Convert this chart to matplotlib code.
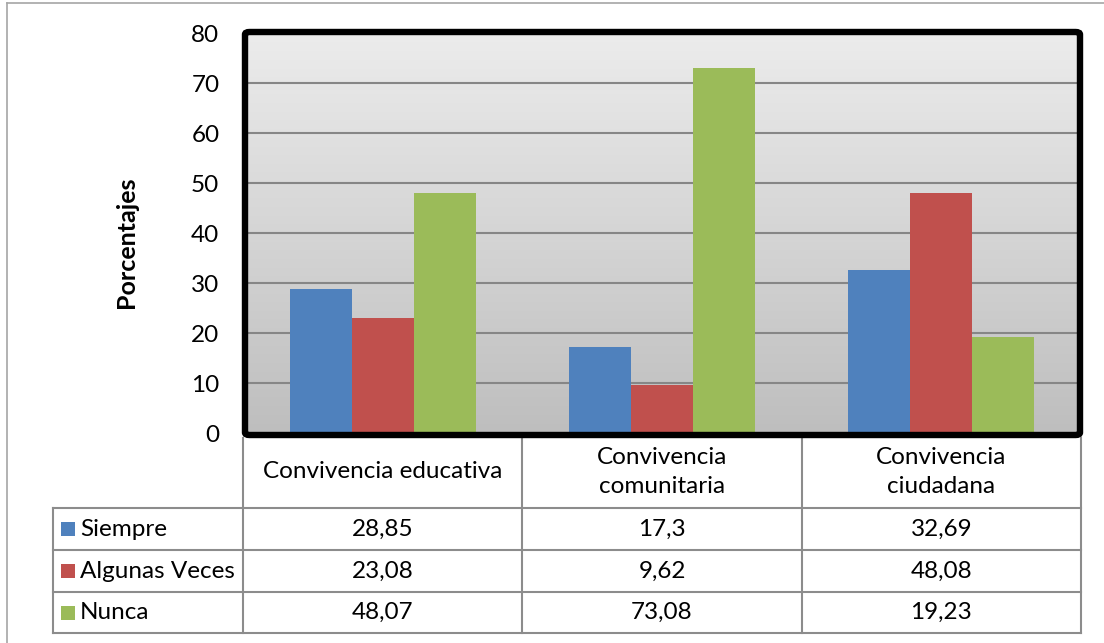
import numpy as np
import matplotlib.pyplot as plt
from matplotlib.patches import FancyBboxPatch, Rectangle
from matplotlib.lines import Line2D
from matplotlib.colors import LinearSegmentedColormap
import matplotlib.transforms as mtransforms

plt.rcParams['font.family'] = ['Lato', 'DejaVu Sans']

categories = ['Convivencia educativa', 'Convivencia\ncomunitaria', 'Convivencia\nciudadana']
series = ['Siempre', 'Algunas Veces', 'Nunca']
siempre = [28.85, 17.3, 32.69]
algunas = [23.08, 9.62, 48.08]
nunca = [48.07, 73.08, 19.23]
labels_siempre = ['28,85', '17,3', '32,69']
labels_algunas = ['23,08', '9,62', '48,08']
labels_nunca = ['48,07', '73,08', '19,23']
colors = ['#4F81BD', '#C0504D', '#9BBB59']
yticks = [0, 10, 20, 30, 40, 50, 60, 70, 80]

W, H = 1104, 643
fig = plt.figure(figsize=(W / 100, H / 100), dpi=100)

def fx(px):
    return px / W

def fy(py):
    return 1 - py / H

# plot area
ax = fig.add_axes([fx(243), fy(433), fx(1081) - fx(243), fy(33) - fy(433)])
ax.set_xlim(-0.5, 2.5)
ax.set_ylim(0, 80)

# gradient background
grad = np.linspace(0, 1, 256).reshape(-1, 1)
cmap = LinearSegmentedColormap.from_list('g', ['#ECECEC', '#BEBEBE'])
ax.imshow(grad, extent=(-0.5, 2.5, 0, 80), aspect='auto', origin='upper',
          cmap=cmap, zorder=0)

for t in yticks[1:-1]:
    ax.axhline(t, color='#868686', lw=1.5, zorder=1)

x = np.arange(len(categories))
bw = 0.222
values = [siempre, algunas, nunca]
for i, vals in enumerate(values):
    ax.bar(x + (i - 1) * bw, vals, width=bw, color=colors[i], zorder=2)

ax.set_xticks([])
ax.set_yticks(yticks)
ax.set_yticklabels([str(t) for t in yticks], fontsize=17.5)
ax.tick_params(axis='y', length=0, pad=17)
for s in ax.spines.values():
    s.set_visible(False)
ax.set_ylabel('Porcentajes', fontsize=18, fontweight='bold')
ax.yaxis.set_label_coords(-0.125, 0.4775)

# thick black frame around the plot area
frame = FancyBboxPatch((fx(245), fy(435)), fx(1080) - fx(245), fy(32) - fy(435),
                       boxstyle='round,pad=0,rounding_size=0.004',
                       transform=fig.transFigure, fill=False, ec='black', lw=4.6,
                       zorder=5)
fig.add_artist(frame)

# outer chart border (only top and left visible)
fig.add_artist(Line2D([fx(7), 1], [fy(3), fy(3)], transform=fig.transFigure, color='#A6A6A6', lw=1.2))
fig.add_artist(Line2D([fx(7), fx(7)], [fy(3), 0], transform=fig.transFigure, color='#A6A6A6', lw=1.2))

# data table
tr = mtransforms.blended_transform_factory(ax.transData, fig.transFigure)
gc = '#8C8C8C'
left_px = 53
row_y = [508, 550, 592, 633]
bounds = [-0.5, 0.5, 1.5, 2.5]
xl = -0.5 - (243 - left_px) / ((1081 - 243) / 3)

for b in bounds:
    fig.add_artist(Line2D([b, b], [fy(438), fy(633)], transform=tr, color=gc, lw=1.5))
fig.add_artist(Line2D([xl, xl], [fy(508), fy(633)], transform=tr, color=gc, lw=1.5))
for ry in row_y:
    fig.add_artist(Line2D([xl, 2.5], [fy(ry), fy(ry)], transform=tr, color=gc, lw=1.5))

for i, c in enumerate(categories):
    fig.text(i, fy(472), c, transform=tr, ha='center', va='center', fontsize=17.5,
             linespacing=1.45)

table_labels = [labels_siempre, labels_algunas, labels_nunca]
for r, name in enumerate(series):
    cy = (row_y[r] + row_y[r + 1]) / 2
    fig.add_artist(Rectangle((fx(61), fy(cy + 7)), fx(14), fy(0) - fy(14),
                             transform=fig.transFigure, color=colors[r], lw=0))
    fig.text(fx(80), fy(cy), name, ha='left', va='center', fontsize=17.5)
    for i, lab in enumerate(table_labels[r]):
        fig.text(i, fy(cy), lab, transform=tr, ha='center', va='center', fontsize=17.5)

fig.savefig('out.png', dpi=100)
